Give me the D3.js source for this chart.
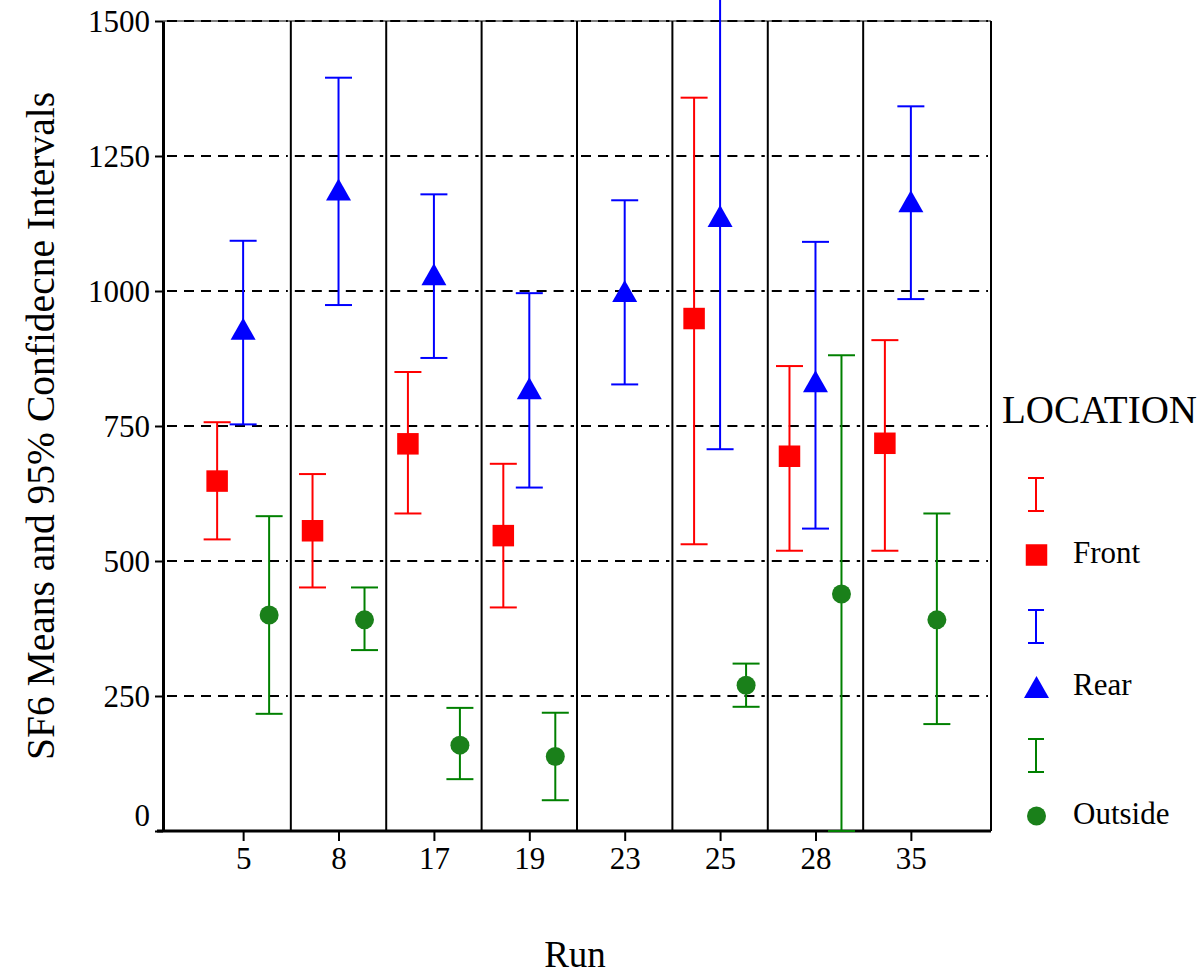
<!DOCTYPE html>
<html>
<head>
<meta charset="utf-8">
<script src="https://cdn.jsdelivr.net/npm/d3@7"></script>
<style>
  body { margin: 0; background: #fff; }
</style>
</head>
<body>
<div id="chart"></div>
<script>
"use strict";

// data
var runs = ["5", "8", "17", "19", "23", "25", "28", "35"];
var yTicks = [0, 250, 500, 750, 1000, 1250, 1500];

var frontMean = [648, 556, 717, 547, null, 949, 694, 718];
var frontLow  = [540, 451, 588, 414, null, 531, 519, 519];
var frontHigh = [757, 661, 850, 680, null, 1358, 861, 909];

var rearMean = [930, 1188, 1031, 820, 1000, 1139, 833, 1166];
var rearLow  = [753, 974, 876, 636, 827, 707, 560, 985];
var rearHigh = [1093, 1395, 1179, 996, 1168, 1580, 1091, 1342];

var outMean = [400, 391, 159, 138, null, 270, 439, 391];
var outLow  = [217, 335, 96, 57, null, 230, 0, 198];
var outHigh = [583, 451, 228, 219, null, 310, 881, 588];

var W = 1202, H = 977;
var plotLeft = 163, plotRight = 991, plotTop = 21, plotBottom = 831;
var serif = "'Liberation Serif', 'Times New Roman', Times, 'DejaVu Serif', serif";

var svg = d3.select("#chart").append("svg")
  .attr("width", W).attr("height", H)
  .style("font-family", serif);

var x = d3.scaleLinear().domain([-0.84, 7.84]).range([plotLeft, plotRight]);
var y = d3.scaleLinear().domain([0, 1500]).range([plotBottom, plotTop]);
var offset = 0.2725;   // series shift inside a run

// dashed grid, drawn panel by panel
var edges = [plotLeft];
runs.forEach(function(d, i) { if (i > 0) edges.push(x(i - 0.5)); });
edges.push(plotRight);

var grid = svg.append("g");
yTicks.filter(d => d > 0).forEach(function(v) {
  for (var p = 0; p < edges.length - 1; p++) {
    grid.append("line")
      .attr("x1", edges[p] + 4).attr("x2", edges[p + 1] - 3)
      .attr("y1", y(v)).attr("y2", y(v))
      .attr("stroke", "#000").attr("stroke-width", 2)
      .attr("stroke-dasharray", "10,7");
  }
});
// top line
svg.append("line")
  .attr("x1", plotLeft).attr("x2", plotRight).attr("y1", y(1500)).attr("y2", y(1500))
  .attr("stroke", "#000").attr("stroke-width", 1.2);

// panel separators + right border
edges.slice(1).forEach(function(e) {
  svg.append("line")
    .attr("x1", e).attr("x2", e).attr("y1", y(1500)).attr("y2", y(0))
    .attr("stroke", "#000").attr("stroke-width", 2);
});

// axes
var yAxis = d3.axisLeft(y).tickValues(yTicks).tickFormat(d3.format("d"))
  .tickSize(8).tickPadding(5).tickSizeOuter(0);
var gy = svg.append("g").attr("transform", "translate(" + plotLeft + ",0)").call(yAxis);
gy.attr("font-family", null);
gy.select(".domain").attr("stroke-width", 3);
gy.selectAll(".tick line").attr("stroke-width", 2);
gy.selectAll(".tick text").style("font-size", "31px").style("font-family", serif)
  .attr("dy", d => d === 0 ? "-0.18em" : "0.34em");

var xAxis = d3.axisBottom(x).tickValues(d3.range(runs.length))
  .tickFormat(i => runs[i]).tickSize(10).tickPadding(6).tickSizeOuter(0);
var gx = svg.append("g").attr("transform", "translate(0," + plotBottom + ")").call(xAxis);
gx.attr("font-family", null);
gx.select(".domain").attr("stroke-width", 3).attr("d", "M" + (plotLeft - 6) + ",0H" + plotRight);
gx.selectAll(".tick line").attr("stroke-width", 2);
gx.selectAll(".tick text").style("font-size", "31px").style("font-family", serif);

// error bars + markers
var series = [
  { name: "Front",   color: "#ff0000", fill: "#ff0000", shape: "square",   mean: frontMean, low: frontLow, high: frontHigh, shift: -offset },
  { name: "Rear",    color: "#0000ff", fill: "#0000ff", shape: "triangle", mean: rearMean,  low: rearLow,  high: rearHigh,  shift: 0 },
  { name: "Outside", color: "#008000", fill: "#1a801a", shape: "circle",   mean: outMean,   low: outLow,   high: outHigh,   shift: offset }
];

function drawBar(g, cx, y1, y2, cap, color) {
  g.append("line").attr("x1", cx).attr("x2", cx).attr("y1", y1).attr("y2", y2)
    .attr("stroke", color).attr("stroke-width", 2);
  [y1, y2].forEach(function(yy) {
    g.append("line").attr("x1", cx - cap / 2).attr("x2", cx + cap / 2)
      .attr("y1", yy).attr("y2", yy)
      .attr("stroke", color).attr("stroke-width", 2);
  });
}

function drawMarker(g, cx, cy, s) {
  if (s.shape === "square") {
    g.append("rect").attr("x", cx - 10.75).attr("y", cy - 10.75)
      .attr("width", 21.5).attr("height", 21.5).attr("fill", s.fill);
  } else if (s.shape === "triangle") {
    g.append("path")
      .attr("d", "M" + cx + "," + (cy - 11) + "L" + (cx + 12.5) + "," + (cy + 11) + "L" + (cx - 12.5) + "," + (cy + 11) + "Z")
      .attr("fill", s.fill);
  } else {
    g.append("circle").attr("cx", cx).attr("cy", cy).attr("r", 9.5).attr("fill", s.fill);
  }
}

var marks = svg.append("g");
series.forEach(function(s) {
  runs.forEach(function(r, i) {
    if (s.mean[i] == null) return;
    drawBar(marks, x(i + s.shift), y(s.high[i]), y(s.low[i]), 27, s.color);
  });
});
series.forEach(function(s) {
  runs.forEach(function(r, i) {
    if (s.mean[i] == null) return;
    drawMarker(marks, x(i + s.shift), y(s.mean[i]), s);
  });
});

// axis titles
svg.append("text").attr("x", (plotLeft + plotRight) / 2 - 2).attr("y", 967)
  .attr("text-anchor", "middle").style("font-size", "37px").style("font-family", serif)
  .text("Run");
svg.append("text").attr("transform", "translate(54,426) rotate(-90)")
  .attr("text-anchor", "middle").style("font-size", "39.5px").style("font-family", serif)
  .text("SF6 Means and 95% Confidecne Intervals");

// legend
var legend = svg.append("g");
legend.append("text").attr("x", 1002).attr("y", 423)
  .style("font-size", "39px").style("font-family", serif).text("LOCATION");
var legendTop = [478, 610, 739];
series.forEach(function(s, k) {
  var t = legendTop[k];
  drawBar(legend, 1036, t, t + 33, 16, s.color);
  drawMarker(legend, 1036.5, t + 77, s);
  legend.append("text").attr("x", 1073).attr("y", t + 85)
    .style("font-size", "31px").style("font-family", serif).text(s.name);
});
</script>
</body>
</html>
